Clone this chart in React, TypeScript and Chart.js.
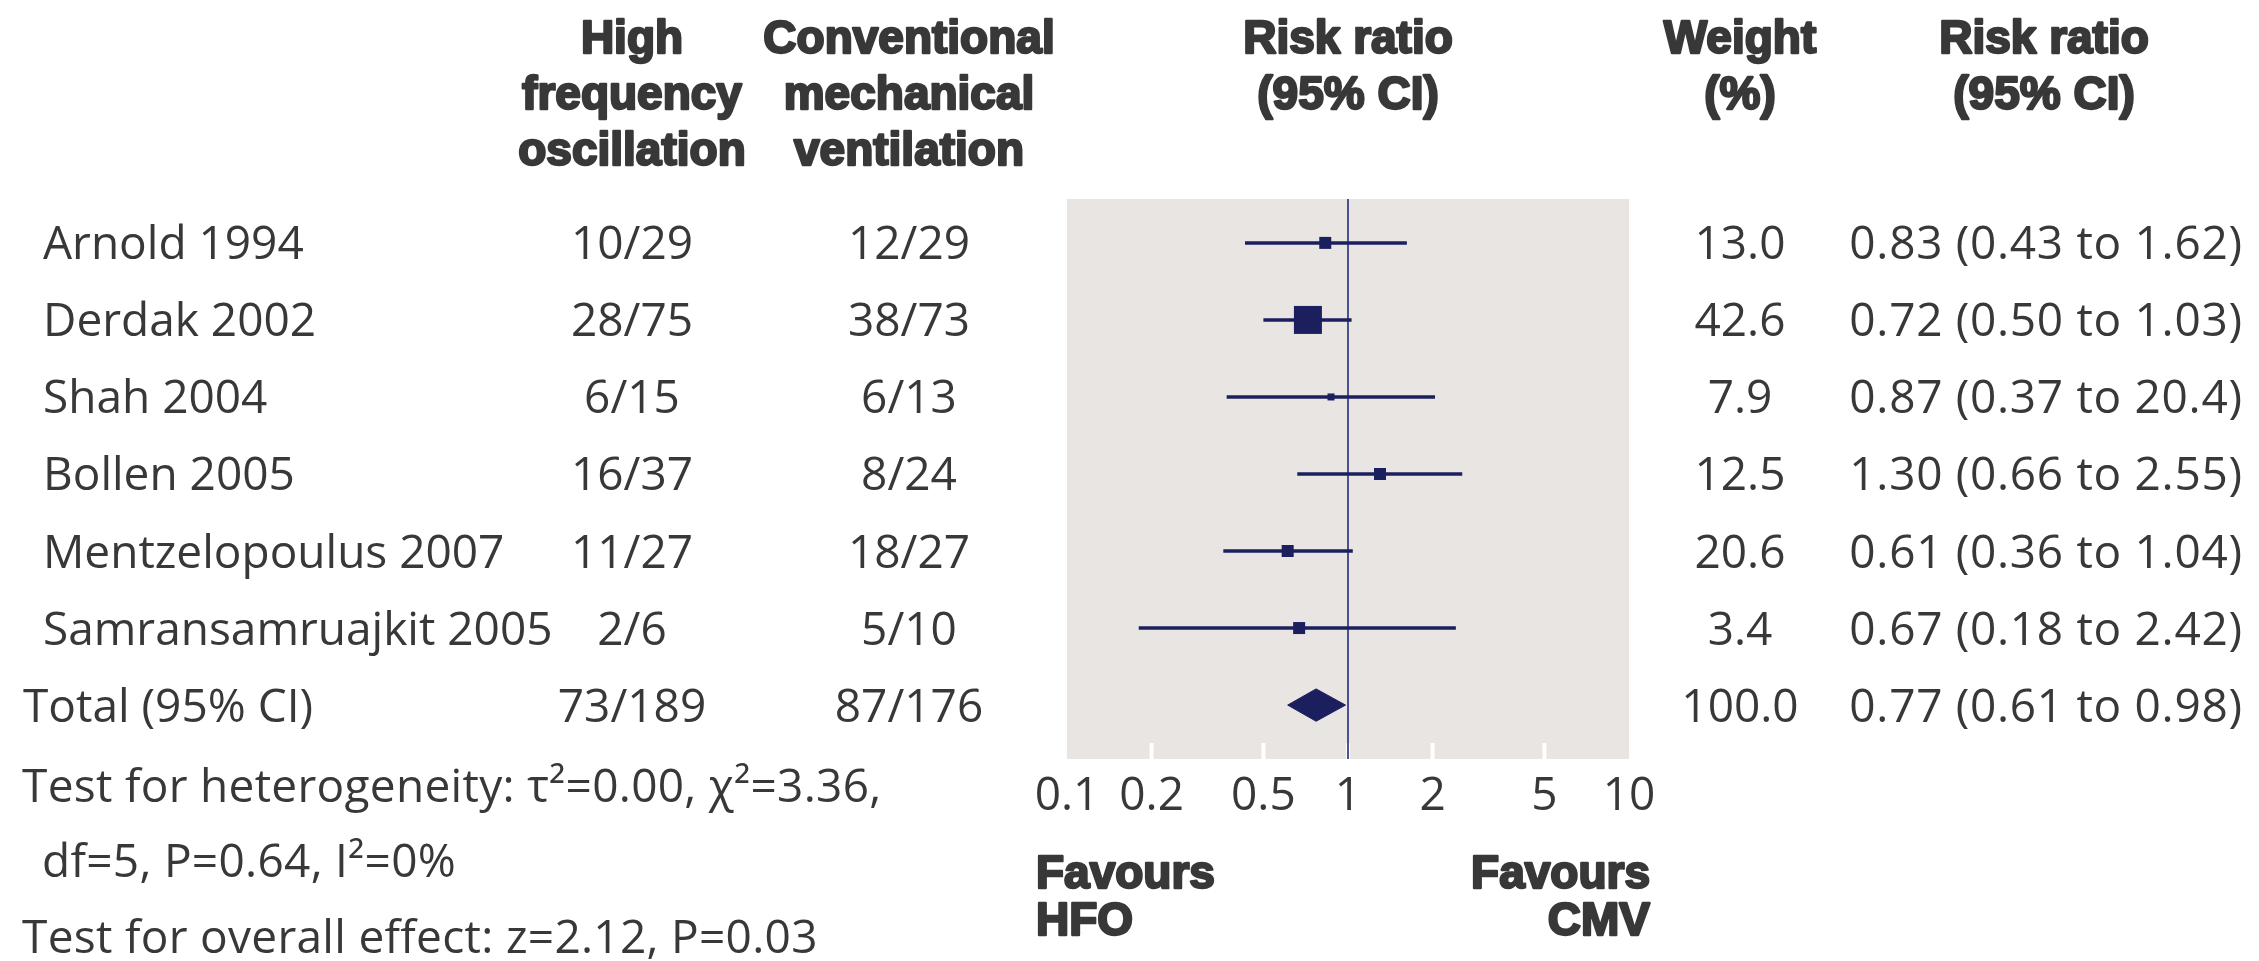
import { useEffect, useRef } from 'react';
import { Chart, registerables } from 'chart.js';

Chart.register(...registerables);

// ---------- data ----------
const studies = [
  'Arnold 1994',
  'Derdak 2002',
  'Shah 2004',
  'Bollen 2005',
  'Mentzelopoulus 2007',
  'Samransamruajkit 2005',
];
const hfoEvents = ['10/29', '28/75', '6/15', '16/37', '11/27', '2/6'];
const cmvEvents = ['12/29', '38/73', '6/13', '8/24', '18/27', '5/10'];
const weightLabels = ['13.0', '42.6', '7.9', '12.5', '20.6', '3.4'];
const riskRatio = [0.83, 0.72, 0.87, 1.3, 0.61, 0.67];
const ciLow = [0.43, 0.5, 0.37, 0.66, 0.36, 0.18];
const ciHigh = [1.62, 1.03, 2.04, 2.55, 1.04, 2.42];
const rrLabels = [
  '0.83 (0.43 to 1.62)',
  '0.72 (0.50 to 1.03)',
  '0.87 (0.37 to 20.4)',
  '1.30 (0.66 to 2.55)',
  '0.61 (0.36 to 1.04)',
  '0.67 (0.18 to 2.42)',
];

const totalLabel = 'Total (95% CI)';
const totalHfo = '73/189';
const totalCmv = '87/176';
const totalWeight = '100.0';
const totalRR = 0.77;
const totalLow = 0.61;
const totalHigh = 0.98;
const totalRRLabel = '0.77 (0.61 to 0.98)';

const tickValues = [0.1, 0.2, 0.5, 1, 2, 5, 10];
const tickLabels = ['0.1', '0.2', '0.5', '1', '2', '5', '10'];

const headerHfo = ['High', 'frequency', 'oscillation'];
const headerCmv = ['Conventional', 'mechanical', 'ventilation'];
const headerRR = ['Risk ratio', '(95% CI)'];
const headerWeight = ['Weight', '(%)'];
const favoursLeft = ['Favours', 'HFO'];
const favoursRight = ['Favours', 'CMV'];
const notes = [
  'Test for heterogeneity: \u03C4\u00B2=0.00, \u03C7\u00B2=3.36,',
  'df=5, P=0.64, I\u00B2=0%',
  'Test for overall effect: z=2.12, P=0.03',
];

// ---------- styles ----------
const W = 2259;
const H = 961;
const NAVY = '#1c1f5e';
const REF_LINE = '#4d5190';
const PANEL = '#e8e5e2';
const TEXT = '#383838';
const BODY_FONT = '46px "Open Sans", "Noto Sans", sans-serif';
const HEAD_FONT = 'bold 46px "Liberation Sans", Arial, sans-serif';
const markerSide = [12, 28, 7, 12, 12, 12]; // px side of squares
const DIAMOND_HALF = 0.21; // half height in row units

const Y_MIN = -0.57;
const Y_MAX = 6.7;

export default function App() {
  const ref = useRef<HTMLCanvasElement>(null);

  useEffect(() => {
    document.body.style.margin = '0';
    const canvas = ref.current;
    if (!canvas) return;
    const totalRow = studies.length;

    const ciSets = studies.map((_, i) => ({
      data: [
        { x: ciLow[i], y: i },
        { x: ciHigh[i], y: i },
      ],
      showLine: true,
      borderColor: NAVY,
      borderWidth: 3.5,
      pointRadius: 0,
      order: 2,
    }));

    const textPlugin = {
      id: 'forestText',
      beforeDraw(chart: any) {
        const { ctx, chartArea } = chart;
        ctx.save();
        ctx.fillStyle = PANEL;
        ctx.fillRect(chartArea.left, chartArea.top, chartArea.right - chartArea.left, chartArea.bottom - chartArea.top);
        // white tick marks
        const xs = chart.scales.x;
        ctx.strokeStyle = '#ffffff';
        ctx.lineWidth = 4;
        tickValues.forEach((v) => {
          if (v <= tickValues[0] || v >= tickValues[tickValues.length - 1]) return;
          const px = xs.getPixelForValue(v);
          ctx.beginPath();
          ctx.moveTo(px, chartArea.bottom - 16);
          ctx.lineTo(px, chartArea.bottom);
          ctx.stroke();
        });
        ctx.restore();
      },
      afterDraw(chart: any) {
        const { ctx, chartArea } = chart;
        const xs = chart.scales.x;
        const ys = chart.scales.y;
        ctx.save();
        const put = (s: string, x: number, y: number, align: CanvasTextAlign, bold = false, spacing = 0) => {
          ctx.font = bold ? HEAD_FONT : BODY_FONT;
          (ctx as any).letterSpacing = spacing + 'px';
          ctx.textAlign = align;
          ctx.textBaseline = 'alphabetic';
          ctx.fillStyle = TEXT;
          ctx.fillText(s, x, y);
          if (bold) {
            ctx.strokeStyle = TEXT;
            ctx.lineWidth = 2.4;
            ctx.lineJoin = 'round';
            ctx.strokeText(s, x, y);
          }
          (ctx as any).letterSpacing = '0px';
        };
        const xOne = xs.getPixelForValue(1);
        // headers
        const hb = [53, 109, 165];
        headerHfo.forEach((s, i) => put(s, 632, hb[i], 'center', true));
        headerCmv.forEach((s, i) => put(s, 909, hb[i], 'center', true));
        headerRR.forEach((s, i) => put(s, xOne, hb[i], 'center', true));
        headerWeight.forEach((s, i) => put(s, 1740, hb[i], 'center', true));
        headerRR.forEach((s, i) => put(s, 2044, hb[i], 'center', true));

        const cap = 16.5;
        studies.forEach((s, i) => {
          const y = ys.getPixelForValue(i) + cap;
          put(s, 43, y, 'left');
          put(hfoEvents[i], 632, y, 'center');
          put(cmvEvents[i], 909, y, 'center');
          put(weightLabels[i], 1740, y, 'center');
          put(rrLabels[i], 2046, y, 'center', false, 0.7);
        });
        const ty = ys.getPixelForValue(totalRow) + cap;
        put(totalLabel, 23, ty, 'left');
        put(totalHfo, 632, ty, 'center');
        put(totalCmv, 909, ty, 'center');
        put(totalWeight, 1740, ty, 'center');
        put(totalRRLabel, 2046, ty, 'center', false, 0.7);

        // axis tick labels
        tickValues.forEach((v, i) => {
          put(tickLabels[i], xs.getPixelForValue(v), chartArea.bottom + 51, 'center');
        });

        // favours
        put(favoursLeft[0], chartArea.left - 31, 888, 'left', true);
        put(favoursLeft[1], chartArea.left - 31, 935, 'left', true);
        put(favoursRight[0], chartArea.right + 21, 888, 'right', true);
        put(favoursRight[1], chartArea.right + 21, 935, 'right', true);

        // notes
        put(notes[0], 22, 802, 'left', false, 0.3);
        put(notes[1], 42, 877, 'left', false, 0.3);
        put(notes[2], 22, 953, 'left', false, 0.3);
        ctx.restore();
      },
    };

    const chart = new Chart(canvas, {
      type: 'scatter',
      data: {
        datasets: [
          {
            data: riskRatio.map((x, i) => ({ x, y: i })),
            pointStyle: 'rect',
            pointRadius: markerSide.map((s) => s / (2 * Math.SQRT1_2)),
            pointHoverRadius: markerSide.map((s) => s / (2 * Math.SQRT1_2)),
            backgroundColor: NAVY,
            borderColor: NAVY,
            borderWidth: 0,
            order: 0,
          },
          {
            data: [
              { x: totalLow, y: totalRow },
              { x: totalRR, y: totalRow - DIAMOND_HALF },
              { x: totalHigh, y: totalRow },
              { x: totalRR, y: totalRow + DIAMOND_HALF },
              { x: totalLow, y: totalRow },
            ],
            showLine: true,
            fill: 'shape',
            backgroundColor: NAVY,
            borderColor: NAVY,
            borderWidth: 1,
            pointRadius: 0,
            tension: 0,
            order: 0,
          },
          ...ciSets,
          {
            data: [
              { x: 1, y: Y_MIN },
              { x: 1, y: Y_MAX },
            ],
            showLine: true,
            borderColor: REF_LINE,
            borderWidth: 2,
            pointRadius: 0,
            order: 3,
          },
        ] as any,
      },
      options: {
        animation: false,
        responsive: false,
        maintainAspectRatio: false,
        events: [],
        layout: { padding: { left: 1067, right: W - 1629, top: 199, bottom: H - 759 } },
        plugins: {
          legend: { display: false },
          tooltip: { enabled: false },
          title: { display: false },
        },
        scales: {
          x: { type: 'logarithmic', min: 0.1, max: 10, display: false },
          y: { type: 'linear', min: Y_MIN, max: Y_MAX, reverse: true, display: false },
        },
      },
      plugins: [textPlugin],
    });
    return () => chart.destroy();
  }, []);

  return (
    <div style={{ position: 'absolute', left: 0, top: 0, width: W, height: H, background: '#ffffff' }}>
      <canvas ref={ref} width={W} height={H} style={{ width: W, height: H, display: 'block' }} />
    </div>
  );
}
